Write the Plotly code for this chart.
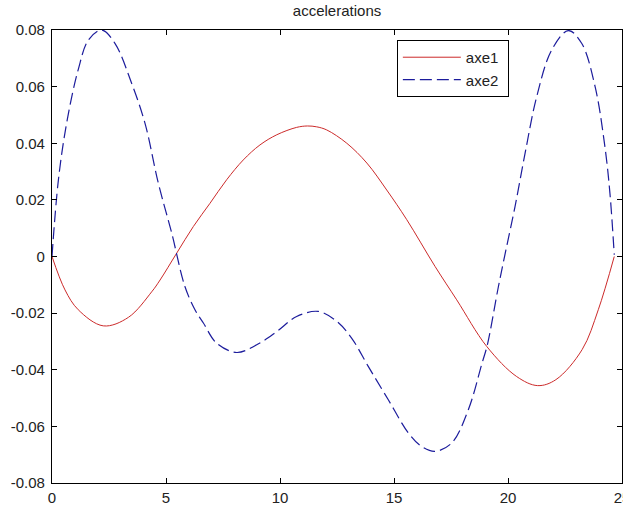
import plotly.graph_objects as go

title_text = "accelerations"
series_names = ["axe1", "axe2"]

x_axe1 = [0, 0.57, 1.15, 2.25, 3.35, 4.37, 4.74, 5.47, 6.2, 6.93, 7.66, 8.39, 9.12, 9.86,
          10.73, 11.2, 11.61, 12.05, 12.93, 13.81, 14.68, 15.56, 16.8, 17.75, 19.07,
          20.38, 21.3, 22.1, 23.25, 23.96, 24.66]
y_axe1 = [0, -0.0118, -0.0188, -0.0245, -0.0215, -0.0125, -0.0083, 0.0012, 0.0106,
          0.0188, 0.0271, 0.0341, 0.0394, 0.043, 0.0456, 0.0461, 0.0458, 0.0447, 0.040,
          0.033, 0.0235, 0.013, -0.0035, -0.0153, -0.0318, -0.0424, -0.0456, -0.0435,
          -0.0329, -0.0188, 0.0]

x_axe2 = [0, 0.28, 0.64, 1.15, 1.6, 2.18, 2.76, 3.5, 4.08, 4.66, 5.25, 5.83, 6.27,
          6.64, 7.22, 8.1, 8.98, 9.86, 10.73, 11.68, 12.49, 13.14, 13.87, 14.75,
          15.63, 16.21, 16.8, 17.53, 18.26, 18.85, 19.1, 19.58, 19.94, 20.31, 20.75,
          21.26, 21.92, 22.65, 23.23, 23.82, 24.25, 24.47, 24.66]
y_axe2 = [0, 0.027, 0.047, 0.066, 0.0765, 0.080, 0.0753, 0.061, 0.047, 0.026, 0.0083,
          -0.0106, -0.0188, -0.0235, -0.0306, -0.0339, -0.0312, -0.0265, -0.0212,
          -0.0194, -0.0229, -0.0288, -0.0388, -0.0506, -0.0623, -0.0671, -0.0688,
          -0.0659, -0.0541, -0.038, -0.031, -0.0106, 0.0035, 0.0177, 0.0365, 0.0565,
          0.073, 0.0798, 0.0753, 0.060, 0.0388, 0.0224, 0.0006]

x_ticks = [0, 5, 10, 15, 20, 25]
y_ticks = [-0.08, -0.06, -0.04, -0.02, 0, 0.02, 0.04, 0.06, 0.08]
y_ticklabels = ["-0.08", "-0.06", "-0.04", "-0.02", "0", "0.02", "0.04", "0.06", "0.08"]

font_family = "Liberation Sans, Arial, sans-serif"
pad = "\u00a0"

fig = go.Figure()
fig.add_trace(go.Scatter(x=x_axe1, y=y_axe1, mode="lines", name=series_names[0] + pad,
                         line=dict(color="#cc2a2a", width=1, shape="spline", smoothing=1.0)))
fig.add_trace(go.Scatter(x=x_axe2, y=y_axe2, mode="lines", name=series_names[1] + pad,
                         line=dict(color="#1c1c9c", width=1.2, shape="spline", smoothing=1.0,
                                   dash="12px,5px")))

axis_common = dict(showline=True, linecolor="black", linewidth=1.3, mirror="ticks",
                   ticks="inside", ticklen=5, tickcolor="black", showgrid=False,
                   zeroline=False, automargin=False,
                   tickfont=dict(family=font_family, size=15, color="#222"))

fig.update_layout(
    width=623, height=510,
    template="none",
    paper_bgcolor="white", plot_bgcolor="white",
    margin=dict(l=52, r=1, t=30, b=27),
    title=dict(text=title_text, x=0.541, xanchor="center", y=0.978, yanchor="middle",
               font=dict(family=font_family, size=15, color="#222")),
    xaxis=dict(range=[0, 25], tickvals=x_ticks, ticktext=[str(v) for v in x_ticks],
               ticklabelstandoff=1, ticklabeloverflow="allow", **axis_common),
    yaxis=dict(range=[-0.08, 0.08], tickvals=y_ticks, ticktext=y_ticklabels,
               ticklabelstandoff=3, **axis_common),
    legend=dict(x=0.605, y=0.978, xanchor="left", yanchor="top",
                bgcolor="white", bordercolor="black", borderwidth=1,
                font=dict(family=font_family, size=15, color="#222"),
                itemwidth=58, tracegroupgap=4),
    showlegend=True,
)

fig.write_html("out.html", config={"displayModeBar": False},
               post_script="document.body.style.margin='0px';")
